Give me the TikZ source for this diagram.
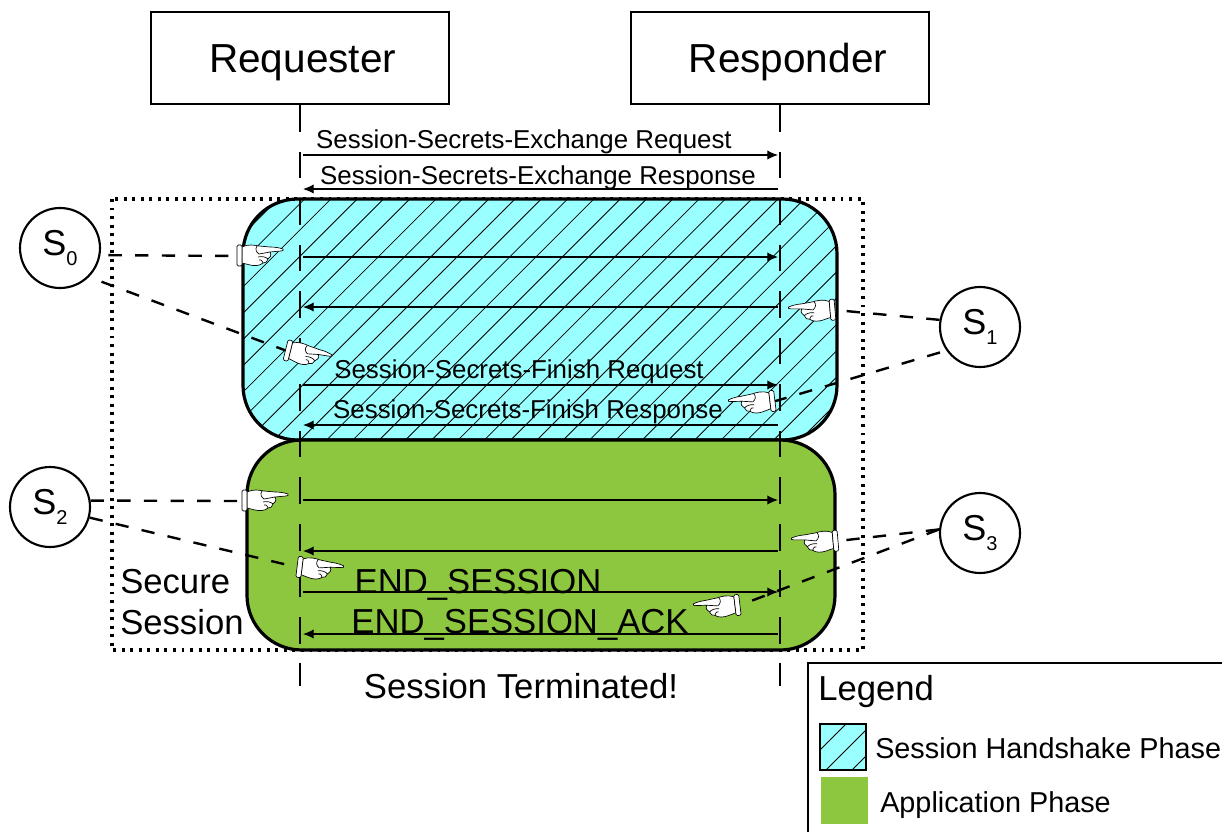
\documentclass[tikz,border=0pt]{standalone}
\usepackage{fontspec}
\setmainfont{Liberation Sans}
\usetikzlibrary{arrows.meta}
\definecolor{shakecyan}{HTML}{99FFFF}
\definecolor{appgreen}{HTML}{8DC63F}
\newcommand{\fsize}[1]{\fontsize{#1}{#1}\selectfont}
\newcommand{\sname}[1]{S\raisebox{-7pt}{\fsize{15}#1}}
\newcommand{\actorname}[1]{\raisebox{-10.5pt}[0pt][0pt]{#1}}
\tikzset{
  actor/.style={draw,line width=1.6pt,inner sep=0pt,minimum width=223pt,minimum height=69pt,font=\fsize{30.4}},
  state/.style={draw,circle,line width=1.6pt,inner sep=0pt,minimum size=60pt,font=\fsize{27}},
  msg/.style={line width=.9pt,->,>={Latex[length=8pt,width=7pt]}},
  life/.style={line width=.8pt,dash pattern=on 20pt off 14.9pt},
  point/.style={line width=1.8pt,dash pattern=on 10pt off 10pt},
  hatched/.style={path picture={\foreach \c in {#1} \draw[line width=.6pt] (\c,0)--(0,\c);}},
  small/.style={inner sep=0pt,font=\fsize{19.4}},
  large/.style={inner sep=0pt,font=\fsize{26}},
  hand/.pic={
    \coordinate (-cuff) at (-23,1);
    \draw[fill=white,line width=.5pt] (-18,-8) .. controls (-12,-11) and (-6,-10) .. (-1,-9)
      -- (10,-8) .. controls (16,-8) and (20,-7) .. (23,-6) .. controls (24,-5) and (23,-4) .. (21,-4)
      -- (10,-3) .. controls (12,0) and (10,3) .. (8,4) .. controls (8,7) and (5,8) .. (3,8)
      .. controls (0,11) and (-6,11) .. (-10,10) -- (-18,8) -- cycle;
    \draw[fill=white,line width=.5pt,rounded corners=1pt] (-23,-10) rectangle (-18,11);
    \draw[line width=.5pt] (-1,-1) -- (10,-3) (-2,2) .. controls (2,1) and (6,2) .. (8,4)
      (-1,5) .. controls (0,4) and (2,5) .. (3,8) (-3,-9) .. controls (-5,-6) and (-4,-3) .. (-1,-1);
  }
}
\begin{document}
\begin{tikzpicture}[x=.75pt,y=-.75pt]
  \useasboundingbox (0,0) rectangle (1222,832);
  \draw[line width=2.4pt,dash pattern=on 2.2pt off 4.2pt] (112,199) rectangle (863,650);
  \draw[line width=2.4pt,fill=shakecyan,rounded corners=41pt,hatched={451,477.3,...,1290}] (243,199) rectangle (837,440);
  \draw[line width=2.4pt,fill=appgreen,rounded corners=41pt] (247,440) rectangle (835,650);

  \node[actor] (requester) at (300,58) {\hspace{4pt}\actorname{Requester}};
  \node[actor] (responder) at (780,58) {\hspace{12pt}\actorname{Responder}};
  \coordinate (reqend) at (300,686);
  \coordinate (resend) at (780,686);
  \draw[life] (requester) -- (reqend);
  \draw[life] (responder) -- (resend);

  \foreach \n/\y in {a/155,b/189,c/257,d/307,e/385,f/425,g/500,h/551,i/592,j/634}{
    \coordinate (l\n) at (303,\y);
    \coordinate (r\n) at (778,\y);
  }
  \draw[msg] (la) -- (ra);
  \draw[msg] (rb) -- (lb);
  \draw[msg] (lc) -- (rc);
  \draw[msg] (rd) -- (ld);
  \draw[msg] (le) -- (re);
  \draw[msg] (rf) -- (lf);
  \draw[msg] (lg) -- (rg);
  \draw[msg] (rh) -- (lh);
  \draw[msg] (li) -- (ri);
  \draw[msg] (rj) -- (lj);

  \node[small] (xreq) at (524,142) {Session-Secrets-Exchange Request};
  \node[small] (xres) at (538,178) {Session-Secrets-Exchange Response};
  \node[small] (freq) at (519,372) {Session-Secrets-Finish Request};
  \node[small] (fres) at (528,412) {Session-Secrets-Finish Response};
  \node[large] (end) at (478,585) {END\_SESSION};
  \node[large] (ack) at (520,625) {END\_SESSION\_ACK};
  \node[large] (term) at (521,686) {Session Terminated!};
  \node[large,align=left,anchor=west] (secure) at (120,602) {Secure\\[5pt]Session};

  \node[state] (s0) at (60,248) {\sname{0}};
  \node[state] (s1) at (980,327) {\sname{1}};
  \node[state] (s2) at (50,507) {\sname{2}};
  \node[state] (s3) at (980,533) {\sname{3}};

  \pic (h0) at (260,255) {hand};
  \pic (h1) at (812,311) [xscale=-1,rotate=-5] {hand};
  \pic (h2) at (308,355) [rotate=-14] {hand};
  \pic (h3) at (752,403) [xscale=-1,rotate=-7] {hand};
  \pic (h4) at (265,500) {hand};
  \pic (h5) at (815,542) [xscale=-1,rotate=-5] {hand};
  \pic (h6) at (320,569) [rotate=-7] {hand};
  \pic (h7) at (717,607) [xscale=-1,rotate=-7] {hand};

  \draw[point,shorten <=6pt] (s0.-10) -- (h0-cuff);
  \draw[point,shorten <=10pt] (s0.-45) -- (h2-cuff);
  \draw[point] (s1.170) -- (h1-cuff);
  \draw[point,shorten <=5pt] (s1.215) -- (h3-cuff);
  \draw[point] (s2.9) -- (h4-cuff);
  \draw[point] (s2.-15) -- (h6-cuff);
  \draw[point] (s3.175) -- (h5-cuff);
  \draw[point] (s3.175) -- (h7-cuff);

  \draw[line width=1pt] (808,832) -- (808,663) -- (1222,663);
  \node[large,anchor=west] (legend) at (818,692) {Legend};
  \draw[line width=2.2pt,fill=shakecyan,hatched={1570,1596,1622}] (820,724) rectangle (866,770);
  \node[inner sep=0pt,anchor=west,font=\fsize{21.6}] (shake) at (875,748) {Session Handshake Phase};
  \fill[appgreen] (821,777) rectangle (868,824);
  \node[inner sep=0pt,anchor=west,font=\fsize{21.6}] (app) at (880,805) {Application Phase};
\end{tikzpicture}
\end{document}
